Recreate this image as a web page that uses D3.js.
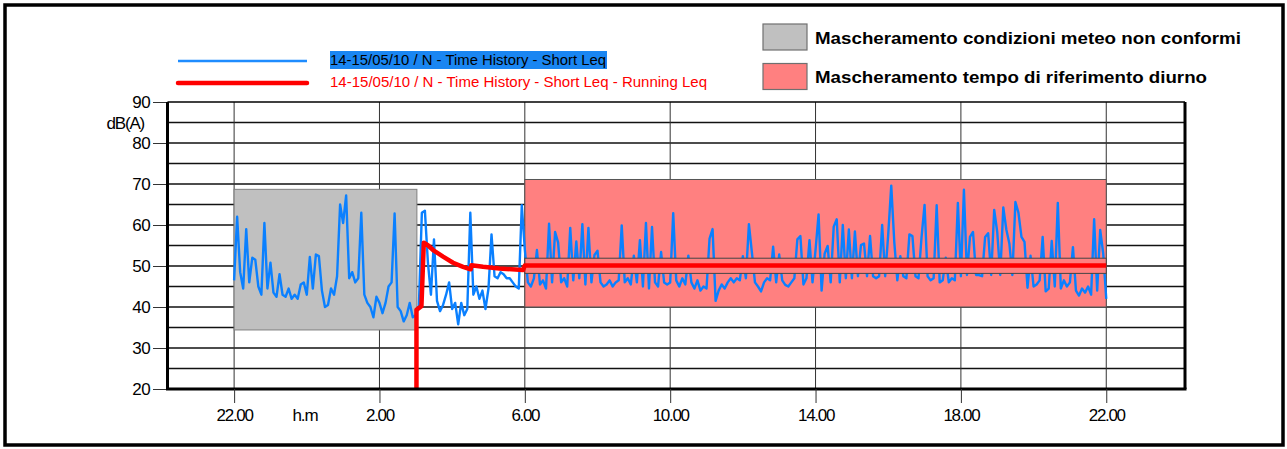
<!DOCTYPE html>
<html><head><meta charset="utf-8">
<script src="https://cdn.jsdelivr.net/npm/d3@7"></script>
<style>
body{margin:0;background:#fff}
svg{display:block;font-family:"Liberation Sans",Arial,Helvetica,sans-serif}
</style>
</head><body>
<svg id="chart" width="1287" height="449"></svg>
<script>
// ---------- DATA ----------
// x axis: hours elapsed since 22:00 of 14/05/10
const xTickHours  = [0, 4, 8, 12, 16, 20, 24];
const xTickLabels = ["22.00", "2.00", "6.00", "10.00", "14.00", "18.00", "22.00"];
const xDomainHours = [-1.833, 26.167];          // 20:10 -> 00:10
const yTicks = [20, 30, 40, 50, 60, 70, 80, 90];
const yGridValues = [25, 30, 35, 40, 45, 50, 55, 60, 65, 70, 75, 80, 85];
const yDomain = [20, 90];

// Short Leq time history, one value every 5 minutes from 22:00 to 22:00 (dB(A))
const sampleMinutes = 5;
const shortLeq = [
  46.5, 62, 48.5, 44.5, 59, 46, 52, 51.5, 45, 43, 60.5, 44.5,          // 22
  50.8, 43.5, 42.5, 48, 43, 42.5, 44.5, 42, 43, 42, 45.5, 46,          // 23
  43, 52.2, 44.5, 52.8, 52.4, 44, 40, 40.5, 44.5, 43, 47.5, 65,        // 0
  60.5, 67.2, 47, 48.5, 46, 47, 63, 43, 41, 40, 37.5, 42.5,            // 1
  41, 38.5, 41, 45, 46, 62.8, 40, 39, 36.5, 38, 41, 37.5,              // 2
  38, 40, 63, 63.5, 50.8, 43, 56.5, 41.5, 39, 40.5, 43, 46,            // 3
  39.5, 41, 35.8, 41, 38, 39.5, 63, 43, 45, 42, 44, 39.5,              // 4
  44.5, 57.7, 47.5, 47, 48.5, 48, 47, 47, 46, 45, 44.5, 64.8,          // 5
  54, 46, 45, 47, 53.9, 45.5, 46.5, 44.5, 60.3, 46, 58.3, 55.7,        // 6
  46, 47, 45, 59.3, 46.5, 56, 47, 60.2, 45.5, 59.3, 46, 52.7,          // 7
  53.7, 46, 45, 45.5, 46.5, 45, 46, 46.5, 59.9, 46, 47, 45.5,          // 8
  52.5, 46, 56.3, 45, 60.5, 44.5, 59.5, 46, 45, 53.4, 46, 45.5,        // 9
  46, 62.9, 46.5, 45, 47, 45.5, 52.5, 46, 44.5, 46.5, 44, 45,          // 10
  44.5, 56.7, 59, 41.5, 44, 45.5, 44.5, 46, 47, 46, 47, 46.5,          // 11
  52.4, 47, 60.2, 53.2, 46, 45, 43.8, 46, 47, 46.5, 54.7, 46,          // 12
  52.8, 46.5, 45.4, 45, 46, 47, 56.5, 57.3, 45.5, 47, 56.3, 46,        // 13
  53.9, 62.6, 44, 53, 54.9, 46, 59.6, 61.4, 46, 60, 47, 58.9,          // 14
  47, 58.4, 47.5, 55.1, 55.5, 47.5, 57.3, 47.5, 47, 47.5, 60, 47.5,    // 15
  57.7, 69.6, 55.9, 46.5, 52.4, 47.5, 47, 57.7, 57.3, 47.5, 47, 57,    // 16
  64.9, 47.5, 46.5, 47, 64.8, 46, 46.5, 52, 46, 47, 46.5, 65.4,        // 17
  47.5, 68.6, 47.8, 57.1, 58.3, 47.8, 47.8, 47.5, 57.1, 58, 47.8, 63.7,// 18
  58.3, 47.8, 64.3, 58.9, 55.5, 47.8, 65.6, 63, 57.1, 55.9, 44.7, 52.5,// 19
  45, 45.5, 46.5, 57.1, 43.8, 44.5, 56.1, 45, 65.4, 44.5, 46.5, 45,    // 20
  46, 54.6, 44, 42.8, 44.5, 43.5, 45, 43, 61.4, 44, 58.8, 53,          // 21
  42                                                                   // 22
];

// Running Leq (hours since 22:00, dB(A))
const runningHours = [5.018, 5.018, 5.155, 5.22, 5.34, 5.475, 5.75, 6.025, 6.3, 6.51, 6.53, 6.85, 7.3, 7.95, 8.0, 24];
const runningLeq   = [20, 39.3, 40.2, 55.7, 55.0, 53.9, 52.3, 50.8, 49.8, 49.2, 50.2, 49.8, 49.4, 49.0, 50.1, 50.1];

// masks: [startHour, endHour, lowdB, highdB]
const meteoMask = [0, 5.03, 34.4, 68.7];
const dayMask   = [8, 24, 40.0, 71.1];
const leqBand   = [8, 24, 48.2, 51.9];

const legendSeries = ["14-15/05/10 / N - Time History - Short Leq",
                      "14-15/05/10 / N - Time History - Short Leq - Running Leq"];
const legendMasks  = ["Mascheramento condizioni meteo non conformi",
                      "Mascheramento tempo di riferimento diurno"];

// ---------- DRAW ----------
const svg = d3.select("#chart");
const L = 167.5, R = 1185, T = 102, B = 389;
const x = d3.scaleLinear().domain(xDomainHours).range([L, R]);
const y = d3.scaleLinear().domain(yDomain).range([B, T]);

// outer border
svg.append("rect").attr("x", 5).attr("y", 5).attr("width", 1278).attr("height", 440)
  .attr("fill", "#fff").attr("stroke", "#000").attr("stroke-width", 3.5);

// horizontal grid
svg.append("g").selectAll("line").data(yGridValues).join("line")
  .attr("x1", L).attr("x2", R).attr("y1", d => y(d)).attr("y2", d => y(d))
  .attr("stroke", "#111").attr("stroke-width", 1.7);

// vertical grid
svg.append("g").selectAll("line").data(xTickHours).join("line")
  .attr("x1", d => x(d)).attr("x2", d => x(d)).attr("y1", T).attr("y2", B)
  .attr("stroke", "#333").attr("stroke-width", 1);

// masks
function maskRect(m, fill, stroke) {
  svg.append("rect")
    .attr("x", x(m[0])).attr("width", x(m[1]) - x(m[0]))
    .attr("y", y(m[3])).attr("height", y(m[2]) - y(m[3]))
    .attr("fill", fill).attr("stroke", stroke).attr("stroke-width", 1);
}
maskRect(meteoMask, "#c0c0c0", "#808080");
maskRect(dayMask, "#ff8080", "#555");

// short Leq line
const blueLine = d3.line().x((d, i) => x(i * sampleMinutes / 60)).y(d => y(d));
svg.append("path").datum(shortLeq).attr("d", blueLine)
  .attr("fill", "none").attr("stroke", "#0a80ff").attr("stroke-width", 2.4)
  .attr("stroke-linejoin", "round");

// Leq band
maskRect(leqBand, "#ff8080", "#444");

// running Leq
const redLine = d3.line().x(d => x(d[0])).y(d => y(d[1]));
svg.append("path").datum(runningHours.map((h, i) => [h, runningLeq[i]])).attr("d", redLine)
  .attr("fill", "none").attr("stroke", "#ff0000").attr("stroke-width", 4.5)
  .attr("stroke-linejoin", "round");

// frame
svg.append("line").attr("x1", L).attr("x2", R).attr("y1", T).attr("y2", T).attr("stroke", "#000").attr("stroke-width", 1.5);
svg.append("line").attr("x1", L - 1.5).attr("x2", R + 1.5).attr("y1", B).attr("y2", B).attr("stroke", "#000").attr("stroke-width", 3);
svg.append("line").attr("x1", L).attr("x2", L).attr("y1", T).attr("y2", B).attr("stroke", "#000").attr("stroke-width", 3);
svg.append("line").attr("x1", R).attr("x2", R).attr("y1", T).attr("y2", B).attr("stroke", "#000").attr("stroke-width", 3);

// y axis
const yAxis = svg.append("g").attr("transform", `translate(${L - 1.5},0)`)
  .call(d3.axisLeft(y).tickValues(yTicks).tickSize(13).tickPadding(3));
yAxis.select(".domain").remove();
yAxis.selectAll("line").attr("stroke", "#333");
yAxis.selectAll("text").attr("font-size", 17).attr("fill", "#000")
  .attr("font-family", "Liberation Sans, Arial, sans-serif").style("letter-spacing", "-0.6px");

svg.append("text").attr("x", 144).attr("y", 129).attr("text-anchor", "end")
  .attr("font-size", 17).style("letter-spacing", "-1.2px").text("dB(A)");

// x axis
const xAxis = svg.append("g").attr("transform", `translate(0,${B})`)
  .call(d3.axisBottom(x).tickValues(xTickHours).tickFormat((d, i) => xTickLabels[i]).tickSize(14).tickPadding(6));
xAxis.select(".domain").remove();
xAxis.selectAll("line").attr("stroke", "#333");
xAxis.selectAll("text").attr("font-size", 17).attr("fill", "#000")
  .attr("font-family", "Liberation Sans, Arial, sans-serif").style("letter-spacing", "-1.3px");

svg.append("text").attr("x", 305).attr("y", 421).attr("text-anchor", "middle")
  .attr("font-size", 17).style("letter-spacing", "-1.1px").text("h.m");

// series legend
svg.append("line").attr("x1", 178).attr("x2", 307).attr("y1", 61).attr("y2", 61)
  .attr("stroke", "#1e8cff").attr("stroke-width", 2.5);
svg.append("line").attr("x1", 178).attr("x2", 307).attr("y1", 83).attr("y2", 83)
  .attr("stroke", "#ff0000").attr("stroke-width", 4.5).attr("stroke-linecap", "round");
svg.append("rect").attr("x", 330).attr("y", 51).attr("width", 277).attr("height", 18).attr("fill", "#1a86f2");
svg.append("text").attr("x", 330).attr("y", 65).attr("font-size", 15).attr("fill", "#000")
  .attr("textLength", 276).attr("lengthAdjust", "spacingAndGlyphs").text(legendSeries[0]);
svg.append("text").attr("x", 330).attr("y", 87).attr("font-size", 15).attr("fill", "#ff0000")
  .attr("textLength", 377).attr("lengthAdjust", "spacingAndGlyphs").text(legendSeries[1]);

// mask legend
const swFill = ["#c0c0c0", "#ff8080"];
const swY = [24, 63.5], txY = [43.5, 83];
const txW = [426, 392];
legendMasks.forEach((t, i) => {
  svg.append("rect").attr("x", 763).attr("y", swY[i]).attr("width", 44).attr("height", 26)
    .attr("fill", swFill[i]).attr("stroke", "#707070").attr("stroke-width", 1.2);
  svg.append("text").attr("x", 815).attr("y", txY[i]).attr("font-size", 16.5).attr("font-weight", "bold")
    .attr("fill", "#000").attr("textLength", txW[i]).attr("lengthAdjust", "spacingAndGlyphs").text(t);
});
</script>
</body></html>
